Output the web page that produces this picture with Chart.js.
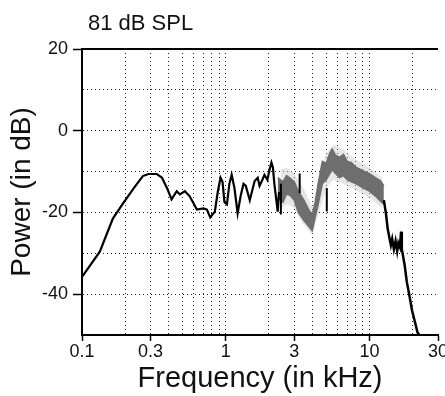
<!DOCTYPE html>
<html>
<head>
<meta charset="utf-8">
<script src="https://cdn.jsdelivr.net/npm/chart.js@4.4.0/dist/chart.umd.min.js"></script>
<style>
    html, body { margin: 0; padding: 0; background: #fff; }
</style>
</head>
<body>
<canvas id="spectrumChart" width="445" height="396"></canvas>
<script>
// black trace, low frequencies up to where the grey band starts
const mainFreq  = [0.1, 0.133, 0.164, 0.193, 0.23, 0.265, 0.29, 0.332, 0.36, 0.39, 0.42, 0.456, 0.48, 0.52, 0.56, 0.63, 0.70, 0.74, 0.78, 0.84, 0.88, 0.92, 0.95, 0.98, 1.02, 1.06, 1.10, 1.15, 1.21, 1.27, 1.33, 1.38, 1.47, 1.52, 1.59, 1.67, 1.72, 1.80, 1.86, 1.95, 2.02, 2.08, 2.13, 2.18, 2.25, 2.30, 2.35];
const mainPower = [-35.8, -29.6, -21.5, -17.8, -14, -11.1, -10.6, -10.6, -11.5, -14, -16.8, -14.8, -15.6, -14.8, -16, -19.3, -19, -19.3, -21.2, -19.8, -15, -11.5, -12.5, -17.5, -18, -13, -10.8, -14, -20.2, -16, -13, -13.5, -17, -15, -12.3, -11.5, -13.5, -12, -10.8, -12, -9.5, -7.8, -9, -13, -17, -19.8, -15];

// grey band (spread of the trace) in the mid frequencies
const bandFreq  = [2.3, 2.5, 2.65, 2.8, 3.0, 3.2, 3.5, 3.8, 4.0, 4.2, 4.4, 4.7, 5.0, 5.3, 5.5, 5.8, 6.2, 6.6, 7.0, 7.5, 8.1, 9.0, 10, 11, 12, 12.6];
const bandUpper = [-11.5, -12.5, -11, -11.6, -12.5, -14.8, -17, -19.5, -20.5, -17.5, -13, -7.5, -8, -5.5, -4.5, -6, -6.5, -5.8, -7.5, -7.8, -9, -9.8, -10.5, -11.5, -12.3, -13.5];
const bandLower = [-16.5, -17.5, -15.5, -15.8, -17, -20, -22, -23.5, -24.5, -21, -18, -13, -12, -10.5, -9.5, -10.5, -11.5, -11, -12, -12.5, -13, -14, -14.8, -16, -17.3, -18];

// faint lighter spread around the band
const haloFreq  = [2.4, 2.7, 3.0, 3.4, 4.0, 4.5, 5.0, 5.6, 6.5, 8.0, 10, 12.3];
const haloUpper = [-9.5, -9, -10.5, -13.5, -18.5, -10.5, -5.5, -3.5, -4.5, -7, -9, -11.5];
const haloLower = [-19, -18, -19, -22.5, -25.5, -19.5, -14, -12, -13, -14.5, -16.5, -19];

// black trace, high-frequency roll-off
const tailFreq  = [12.6, 13.0, 13.4, 13.8, 14.1, 14.4, 14.8, 15.2, 15.6, 15.9, 16.3, 16.6, 16.8, 17.2, 17.6, 18.2, 18.9, 19.8, 20.8, 21.6, 22.3];
const tailPower = [-17, -20, -24, -26.4, -28, -26.5, -29, -27, -29.5, -27.5, -28.5, -24.7, -29, -31, -33, -37, -40, -44, -47, -49.4, -50];

// dark spikes inside the grey band (null = break)
const spikeFreq  = [2.42, 2.42, 2.9, 3.27, 3.27, 4.5, 5.05, 5.05];
const spikePower = [-13, -20.5, null, -10.5, -15.3, null, -14, -19.8];

const yTickLabels = [20, 0, -20, -40];
const xTickValues = [0.1, 0.3, 1, 3, 10, 30];
const xTickLabels = ['0.1', '0.3', '1', '3', '10', '30'];

const FONT = "'Liberation Sans', Arial, Helvetica, sans-serif";

function toPoints(xs, ys) {
    return xs.map((x, i) => ({ x: x, y: ys[i] }));
}

function near(v, list) {
    return list.findIndex(t => Math.abs(v - t) < 1e-6 * Math.max(1, Math.abs(t)));
}

// log grid: 1..9 per decade, plus 10, 20, 30
function logGridValues(min, max) {
    const vals = [];
    for (let e = -1; e <= 1; e++) {
        for (let s = 1; s <= 9; s++) {
            const v = Math.round(s * Math.pow(10, e) * 10) / 10;
            if (v >= min - 1e-9 && v <= max + 1e-9) vals.push(v);
        }
    }
    return vals;
}

const frameAndTitle = {
    id: 'frameAndTitle',
    afterDraw(chart) {
        const { ctx, chartArea } = chart;
        ctx.save();
        ctx.strokeStyle = '#000';
        ctx.lineWidth = 2;
        ctx.beginPath();
        ctx.moveTo(chartArea.left, chartArea.top);
        ctx.lineTo(chartArea.right, chartArea.top);
        ctx.stroke();

        ctx.fillStyle = '#111';
        ctx.font = '22px ' + FONT;
        ctx.textAlign = 'left';
        ctx.textBaseline = 'alphabetic';
        ctx.fillText('81 dB SPL', chartArea.left + 6, 30);
        ctx.restore();
    }
};

const ctx = document.getElementById('spectrumChart').getContext('2d');

new Chart(ctx, {
    type: 'line',
    data: {
        datasets: [
            {
                data: toPoints(haloFreq, haloUpper),
                borderColor: 'rgba(0,0,0,0)',
                borderWidth: 0,
                pointRadius: 0,
                fill: false,
                order: 3
            },
            {
                data: toPoints(haloFreq, haloLower),
                borderColor: 'rgba(0,0,0,0)',
                backgroundColor: 'rgba(200,200,200,0.45)',
                borderWidth: 0,
                pointRadius: 0,
                fill: '-1',
                order: 3
            },
            {
                data: toPoints(bandFreq, bandUpper),
                borderColor: 'rgb(110,110,110)',
                borderWidth: 1.5,
                pointRadius: 0,
                fill: false,
                order: 2
            },
            {
                data: toPoints(bandFreq, bandLower),
                borderColor: 'rgb(110,110,110)',
                backgroundColor: 'rgb(110,110,110)',
                borderWidth: 1.5,
                pointRadius: 0,
                fill: '-1',
                order: 2
            },
            {
                data: toPoints(mainFreq, mainPower),
                borderColor: '#000',
                borderWidth: 2.2,
                pointRadius: 0,
                fill: false,
                order: 1
            },
            {
                data: toPoints(tailFreq, tailPower),
                borderColor: '#000',
                borderWidth: 2.5,
                pointRadius: 0,
                fill: false,
                order: 1
            },
            {
                data: toPoints(spikeFreq, spikePower),
                borderColor: '#000',
                borderWidth: 2,
                pointRadius: 0,
                fill: false,
                spanGaps: false,
                order: 1
            }
        ]
    },
    options: {
        responsive: false,
        animation: false,
        events: [],
        layout: { padding: { top: 49, right: 7, left: 0, bottom: 0 } },
        elements: { line: { tension: 0 } },
        plugins: {
            legend: { display: false },
            tooltip: { enabled: false },
            title: { display: false }
        },
        scales: {
            x: {
                type: 'logarithmic',
                min: 0.1,
                max: 30,
                afterBuildTicks: (scale) => {
                    scale.ticks = logGridValues(0.1, 30).map(v => ({ value: v }));
                },
                afterFit: (scale) => {
                    scale.height = 61;
                    scale.paddingLeft = 0;
                    scale.paddingRight = 0;
                },
                grid: {
                    color: (c) => (c.tick && near(c.tick.value, [30]) >= 0) ? 'rgba(0,0,0,0)' : '#222',
                    lineWidth: 1,
                    tickLength: 6,
                    tickWidth: 1.5,
                    tickColor: (c) => (c.tick && near(c.tick.value, xTickValues) >= 0) ? '#000' : 'rgba(0,0,0,0)'
                },
                border: { display: true, color: '#000', width: 2, dash: [1, 3] },
                ticks: {
                    autoSkip: false,
                    maxRotation: 0,
                    padding: 0,
                    color: '#111',
                    font: { family: FONT, size: 18 },
                    callback: (v) => {
                        const i = near(v, xTickValues);
                        return i >= 0 ? xTickLabels[i] : '';
                    }
                },
                title: {
                    display: true,
                    text: 'Frequency (in kHz)',
                    color: '#111',
                    font: { family: FONT, size: 29 },
                    padding: { top: 0, bottom: 0 }
                }
            },
            y: {
                type: 'linear',
                min: -50,
                max: 20,
                afterFit: (scale) => { scale.width = 82; },
                grid: {
                    color: (c) => (c.tick && (c.tick.value === 20 || c.tick.value === -50)) ? 'rgba(0,0,0,0)' : '#222',
                    lineWidth: 1,
                    tickLength: 9,
                    tickWidth: 1.5,
                    tickColor: (c) => (c.tick && yTickLabels.includes(c.tick.value)) ? '#000' : 'rgba(0,0,0,0)'
                },
                border: { display: true, color: '#000', width: 2, dash: [1, 3] },
                ticks: {
                    stepSize: 10,
                    padding: 5,
                    color: '#111',
                    font: { family: FONT, size: 18 },
                    callback: (v) => yTickLabels.includes(v) ? String(v) : ''
                },
                title: {
                    display: true,
                    text: 'Power (in dB)',
                    color: '#111',
                    font: { family: FONT, size: 28 },
                    padding: { top: 5, bottom: 0 }
                }
            }
        }
    },
    plugins: [frameAndTitle]
});
</script>
</body>
</html>
